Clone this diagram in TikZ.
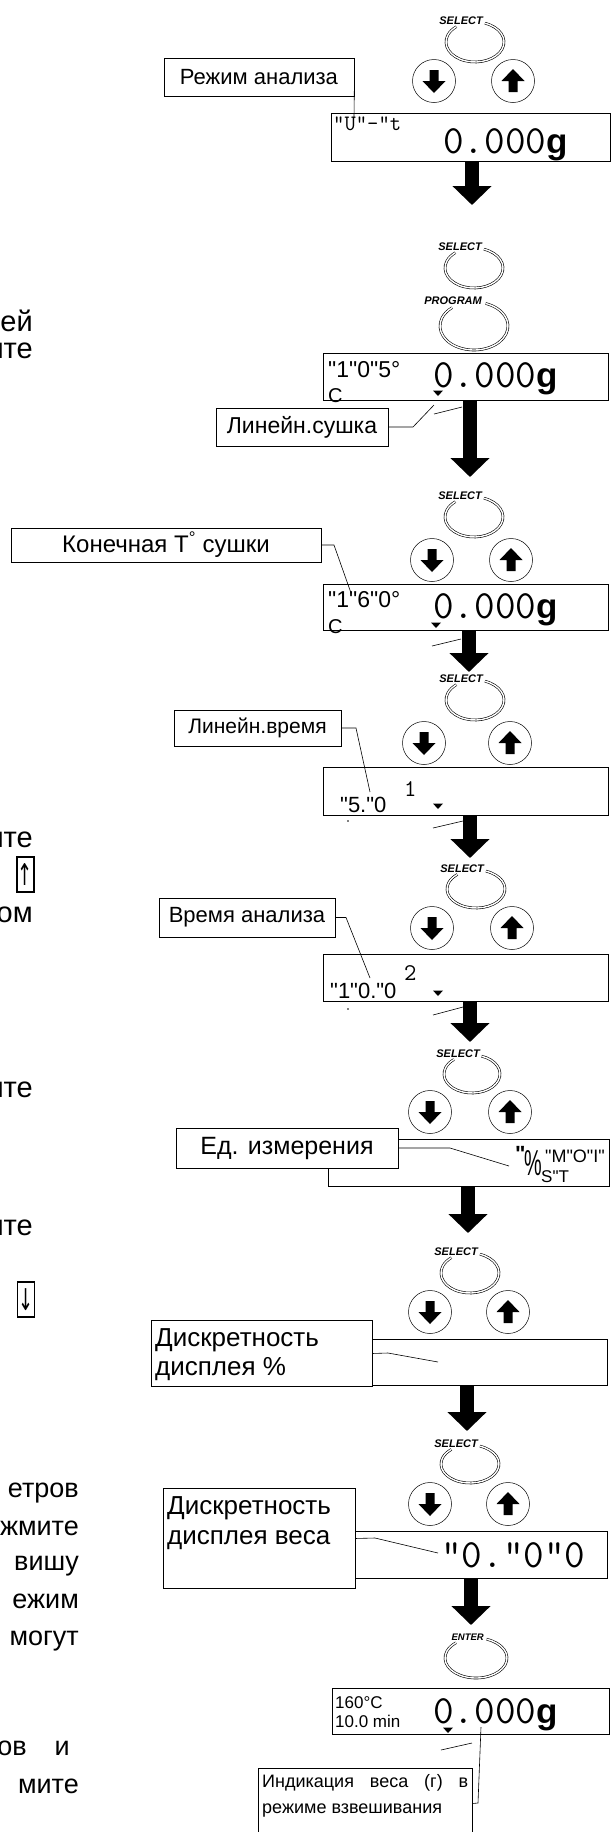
\documentclass[tikz,border=0pt]{standalone}
\usepackage{fontspec}
\setmainfont{Liberation Sans}[Ligatures=TeXOff]
\newfontfamily\symfont{DejaVu Sans}
\usepackage{tikz}
\usetikzlibrary{arrows.meta}
\newcommand\setfs[1]{\fontsize{#1}{#1}\selectfont}
\tikzset
{
  lbl/.style={draw,line width=0.9pt,fill=white,inner sep=0pt},
  disp/.style={draw,line width=0.9pt,inner sep=0pt,anchor=north west},
  lead/.style={line width=0.6pt},
  ring/.style={double,double distance=1.4pt,line width=0.6pt},
  keylbl/.style={inner sep=0pt,anchor=base east},
  flow/.style={line width=14pt,-{Triangle[width=38pt,length=19pt]}},
  frag/.style={anchor=base east,inner sep=0pt},
  arrbox/.style={draw,line width=1.6pt,minimum width=17pt,minimum height=35pt,inner sep=0pt},
  small/.style={anchor=base west,inner sep=0pt},
  tri/.pic={\fill (-5,-2.5) -- (5,-2.5) -- (0,3) -- cycle;},
  downkey/.pic={\draw[line width=0.5pt] (0,0) circle (21.5);
    \fill (-4.5,-11) -- (4.5,-11) -- (4.5,0) -- (11.5,0) -- (0,12) -- (-11.5,0) -- (-4.5,0) -- cycle;},
  upkey/.pic={\draw[line width=0.5pt] (0,0) circle (21.5);
    \fill (-4.5,11) -- (4.5,11) -- (4.5,0) -- (11.5,0) -- (0,-12) -- (-11.5,0) -- (-4.5,0) -- cycle;}
}
\newcommand\weight{\ttfamily\setfs{40}0.000\rmfamily\bfseries\setfs{35}g}

\begin{document}
\begin{tikzpicture}[x=1pt,y=-1pt]
        \useasboundingbox (0,0) rectangle (611,1832);

        % Key rings with their names
        \foreach \cx/\cy/\rx/\ry/\word/\sz [count=\i] in {475/42/29/20/SELECT/11, 474/268/29/20/SELECT/11,
            474/326/34/24/PROGRAM/11, 474/517/29/20/SELECT/11, 475/700/29/20/SELECT/11,
            476/889/29/19/SELECT/11, 472/1074/28/19/SELECT/11, 470/1273/29/20/SELECT/11,
            470/1464/29/19/SELECT/11, 476/1658/31/20/ENTER/9.5}
        {
            \draw[ring] (\cx,\cy) ++({\rx*cos(-70)},{\ry*sin(-70)}) arc[start angle=-70,end angle=230,x radius=\rx,y radius=\ry];
            \node[keylbl,font=\bfseries\itshape\setfs{\sz}] (btn\i) at (\cx+8,\cy-\ry+2) {\word};
        }

        % Arrow keys
        \foreach \xa/\xb/\y in {434/513/81, 432/511/560, 424/510/743, 432/512/928,
            430/510/1112, 430/508/1312, 430/508/1504}
        {
            \pic at (\xa,\y) {downkey};
            \pic at (\xb,\y) {upkey};
        }

        % Displays
        \node[disp,minimum width=279pt,minimum height=48pt] (disp1) at (331,113) {};
        \node[disp,minimum width=285pt,minimum height=47pt] (disp2) at (323,353) {};
        \node[disp,minimum width=285pt,minimum height=46pt] (disp3) at (323,584) {};
        \node[disp,minimum width=285pt,minimum height=48pt] (disp4) at (323,767) {};
        \node[disp,minimum width=285pt,minimum height=47pt] (disp5) at (323,954) {};
        \node[disp,minimum width=281pt,minimum height=47pt] (disp6) at (328,1139) {};
        \node[disp,minimum width=277pt,minimum height=46pt] (disp7) at (330,1339) {};
        \node[disp,minimum width=267pt,minimum height=47pt] (disp8) at (340,1531) {};
        \node[disp,minimum width=277pt,minimum height=46pt] (disp9) at (332,1688) {};

        % Display contents
        \node[small,font=\ttfamily\setfs{22}] (d1a) at (333,130) {"U"-"t};
        \node[small] (d1b) at (443,153) {\weight};
        \node[small,font=\setfs{23}] (d2a) at (328,377) {"1"0"5°};
        \node[small,font=\setfs{20}] (d2c) at (328,402) {C};
        \node[small] (d2b) at (433,387) {\weight};
        \node[small,font=\setfs{23}] (d3a) at (328,607) {"1"6"0°};
        \node[small,font=\setfs{20}] (d3c) at (328,633) {C};
        \node[small] (d3b) at (433,618) {\weight};
        \node[small,font=\ttfamily\setfs{24}] (d4b) at (404,796) {1};
        \node[small,font=\setfs{22}] (d4a) at (340,812) {"5."0};
        \node[small,font=\ttfamily\setfs{24}] (d5b) at (404,980) {2};
        \node[small,font=\setfs{22}] (d5a) at (330,998) {"1"0."0};
        \node[small,font=\bfseries\setfs{22}] (u1) at (515,1161) {"};
        \node[small] (u2) at (524,1175) {\scalebox{0.55}[1]{\setfs{36}\%}};
        \node[small,font=\setfs{18}] (u3) at (545,1162) {"M"O"I"};
        \node[small,font=\setfs{17}] (u4) at (541,1182) {S"T};
        \node[small,font=\ttfamily\setfs{40}] (d8a) at (441,1567) {"0."0"0};
        \node[small,font=\setfs{17}] (d9a) at (335,1708) {160°C};
        \node[small,font=\setfs{17}] (d9c) at (335,1727) {10.0 min};
        \node[small] (d9b) at (433,1723) {\weight};
        \foreach \x/\y in {438/393, 436/625, 438/806, 438/993, 448/1730}
            \pic at (\x,\y) {tri};

        % Labels
        \node[lbl,minimum width=190pt,minimum height=38pt,font=\setfs{22}] (lbl1) at (259,77) {Режим анализа};
        \node[lbl,minimum width=172pt,minimum height=38pt,font=\setfs{23}] (lbl2) at (302,427) {Линейн.сушка};
        \node[lbl,minimum width=310pt,minimum height=34pt,font=\setfs{24}] (lbl3) at (166,545) {Конечная Т\textsuperscript{°} сушки};
        \node[lbl,minimum width=167pt,minimum height=36pt,font=\setfs{21}] (lbl4) at (257.5,728) {Линейн.время};
        \node[lbl,minimum width=176pt,minimum height=39pt,font=\setfs{22}] (lbl5) at (247,917.5) {Время анализа};
        \node[lbl,minimum width=222pt,minimum height=40pt,font=\setfs{25}] (lbl6) at (287,1148) {Ед. измерения};
        \node[lbl,minimum width=221pt,minimum height=66pt,anchor=north west] (lbl7) at (151,1320) {};
        \node[small,font=\setfs{26}] (t7a) at (155,1346) {Дискретность};
        \node[small,font=\setfs{26}] (t7b) at (155,1375) {дисплея \%};
        \node[lbl,minimum width=192pt,minimum height=100pt,anchor=north west] (lbl8) at (163,1488) {};
        \node[small,font=\setfs{26}] (t8a) at (167,1514) {Дискретность};
        \node[small,font=\setfs{26}] (t8b) at (167,1544) {дисплея веса};
        \node[lbl,minimum width=214pt,minimum height=70pt,anchor=north west] (lbl9) at (258,1768) {};
        \node[small,font=\setfs{18}] (t9a) at (262,1787) {\makebox[206pt][s]{Индикация веса (г) в}};
        \node[small,font=\setfs{18}] (t9b) at (262,1813) {режиме взвешивания};

        % Leaders
        \coordinate (p1) at (354,118);
        \coordinate (p2) at (434,405);
        \coordinate (p3) at (351,593);
        \coordinate (p4) at (370,792);
        \coordinate (p5) at (370,978);
        \coordinate (p6) at (509,1166);
        \coordinate (p7) at (438,1362);
        \coordinate (p8) at (438,1553);
        \coordinate (p9) at (481,1727);
        \draw[lead] (lbl1.east) -- (p1);
        \draw[lead] (lbl2.east) -- (413,427) -- (p2);
        \draw[lead] (lbl3.east) -- (334,545) -- (p3);
        \draw[lead] (lbl4.east) -- (356,728) -- (p4);
        \draw[lead] (lbl5.east) -- (346,917.5) -- (p5);
        \draw[lead] (lbl6.east) -- (450,1148) -- (p6);
        \draw[lead] (lbl7.east) -- (388,1353) -- (p7);
        \draw[lead] (lbl8.east) -- (375,1538) -- (p8);
        \draw[lead] (lbl9.east) -- (478,1803) -- (p9);

        % Short strokes under the displays
        \draw[lead] (434,414) -- (462,407);
        \draw[lead] (432,646) -- (461,639);
        \draw[lead] (433,828) -- (463,821);
        \draw[lead] (433,1015) -- (463,1007);
        \draw[lead] (441,1750) -- (472,1743);
        \fill (348,821) circle (0.8);
        \fill (348,1009) circle (0.8);

        % Flow arrows
        \foreach \n/\x/\y in {1/472/205, 2/470/477, 3/469/672, 4/470/858,
            5/470/1042, 6/468/1233, 7/467/1431, 8/471/1625}
        {
            \coordinate (tip\n) at (\x,\y);
            \draw[flow] (disp\n.south -| tip\n) -- (tip\n);
        }

        % Text column at the left edge
        \node[frag] (frag1) at (33,331) {\setfs{29}ей};
        \node[frag] (frag2) at (33,358) {\setfs{29}ите};
        \node[frag] (frag3) at (33,847) {\setfs{29}ите};
        \node[frag] (frag4) at (33,922) {\setfs{29}ом};
        \node[frag] (frag5) at (33,1097) {\setfs{29}ите};
        \node[frag] (frag6) at (33,1235) {\setfs{29}ите};
        \node[frag] (frag7) at (79,1497) {\setfs{27}етров};
        \node[frag] (frag8) at (79,1535) {\setfs{27}жмите};
        \node[frag] (frag9) at (79,1570) {\setfs{27}вишу};
        \node[frag] (frag10) at (79,1608) {\setfs{27}ежим};
        \node[frag] (frag11) at (79,1645) {\setfs{27}могут};
        \node[frag] (frag12) at (27,1755) {\setfs{27}ов};
        \node[frag] (frag13) at (70,1755) {\setfs{27}и};
        \node[frag] (frag14) at (79,1793) {\setfs{27}мите};
        \node[arrbox] (upbox) at (25.5,874.5) {\makebox[0pt]{\symfont\setfs{30}\scalebox{0.6}[1]{↑}}};
        \node[arrbox] (downbox) at (26,1299.5) {\makebox[0pt]{\symfont\setfs{30}\scalebox{0.6}[1]{↓}}};
\end{tikzpicture}
\end{document}
